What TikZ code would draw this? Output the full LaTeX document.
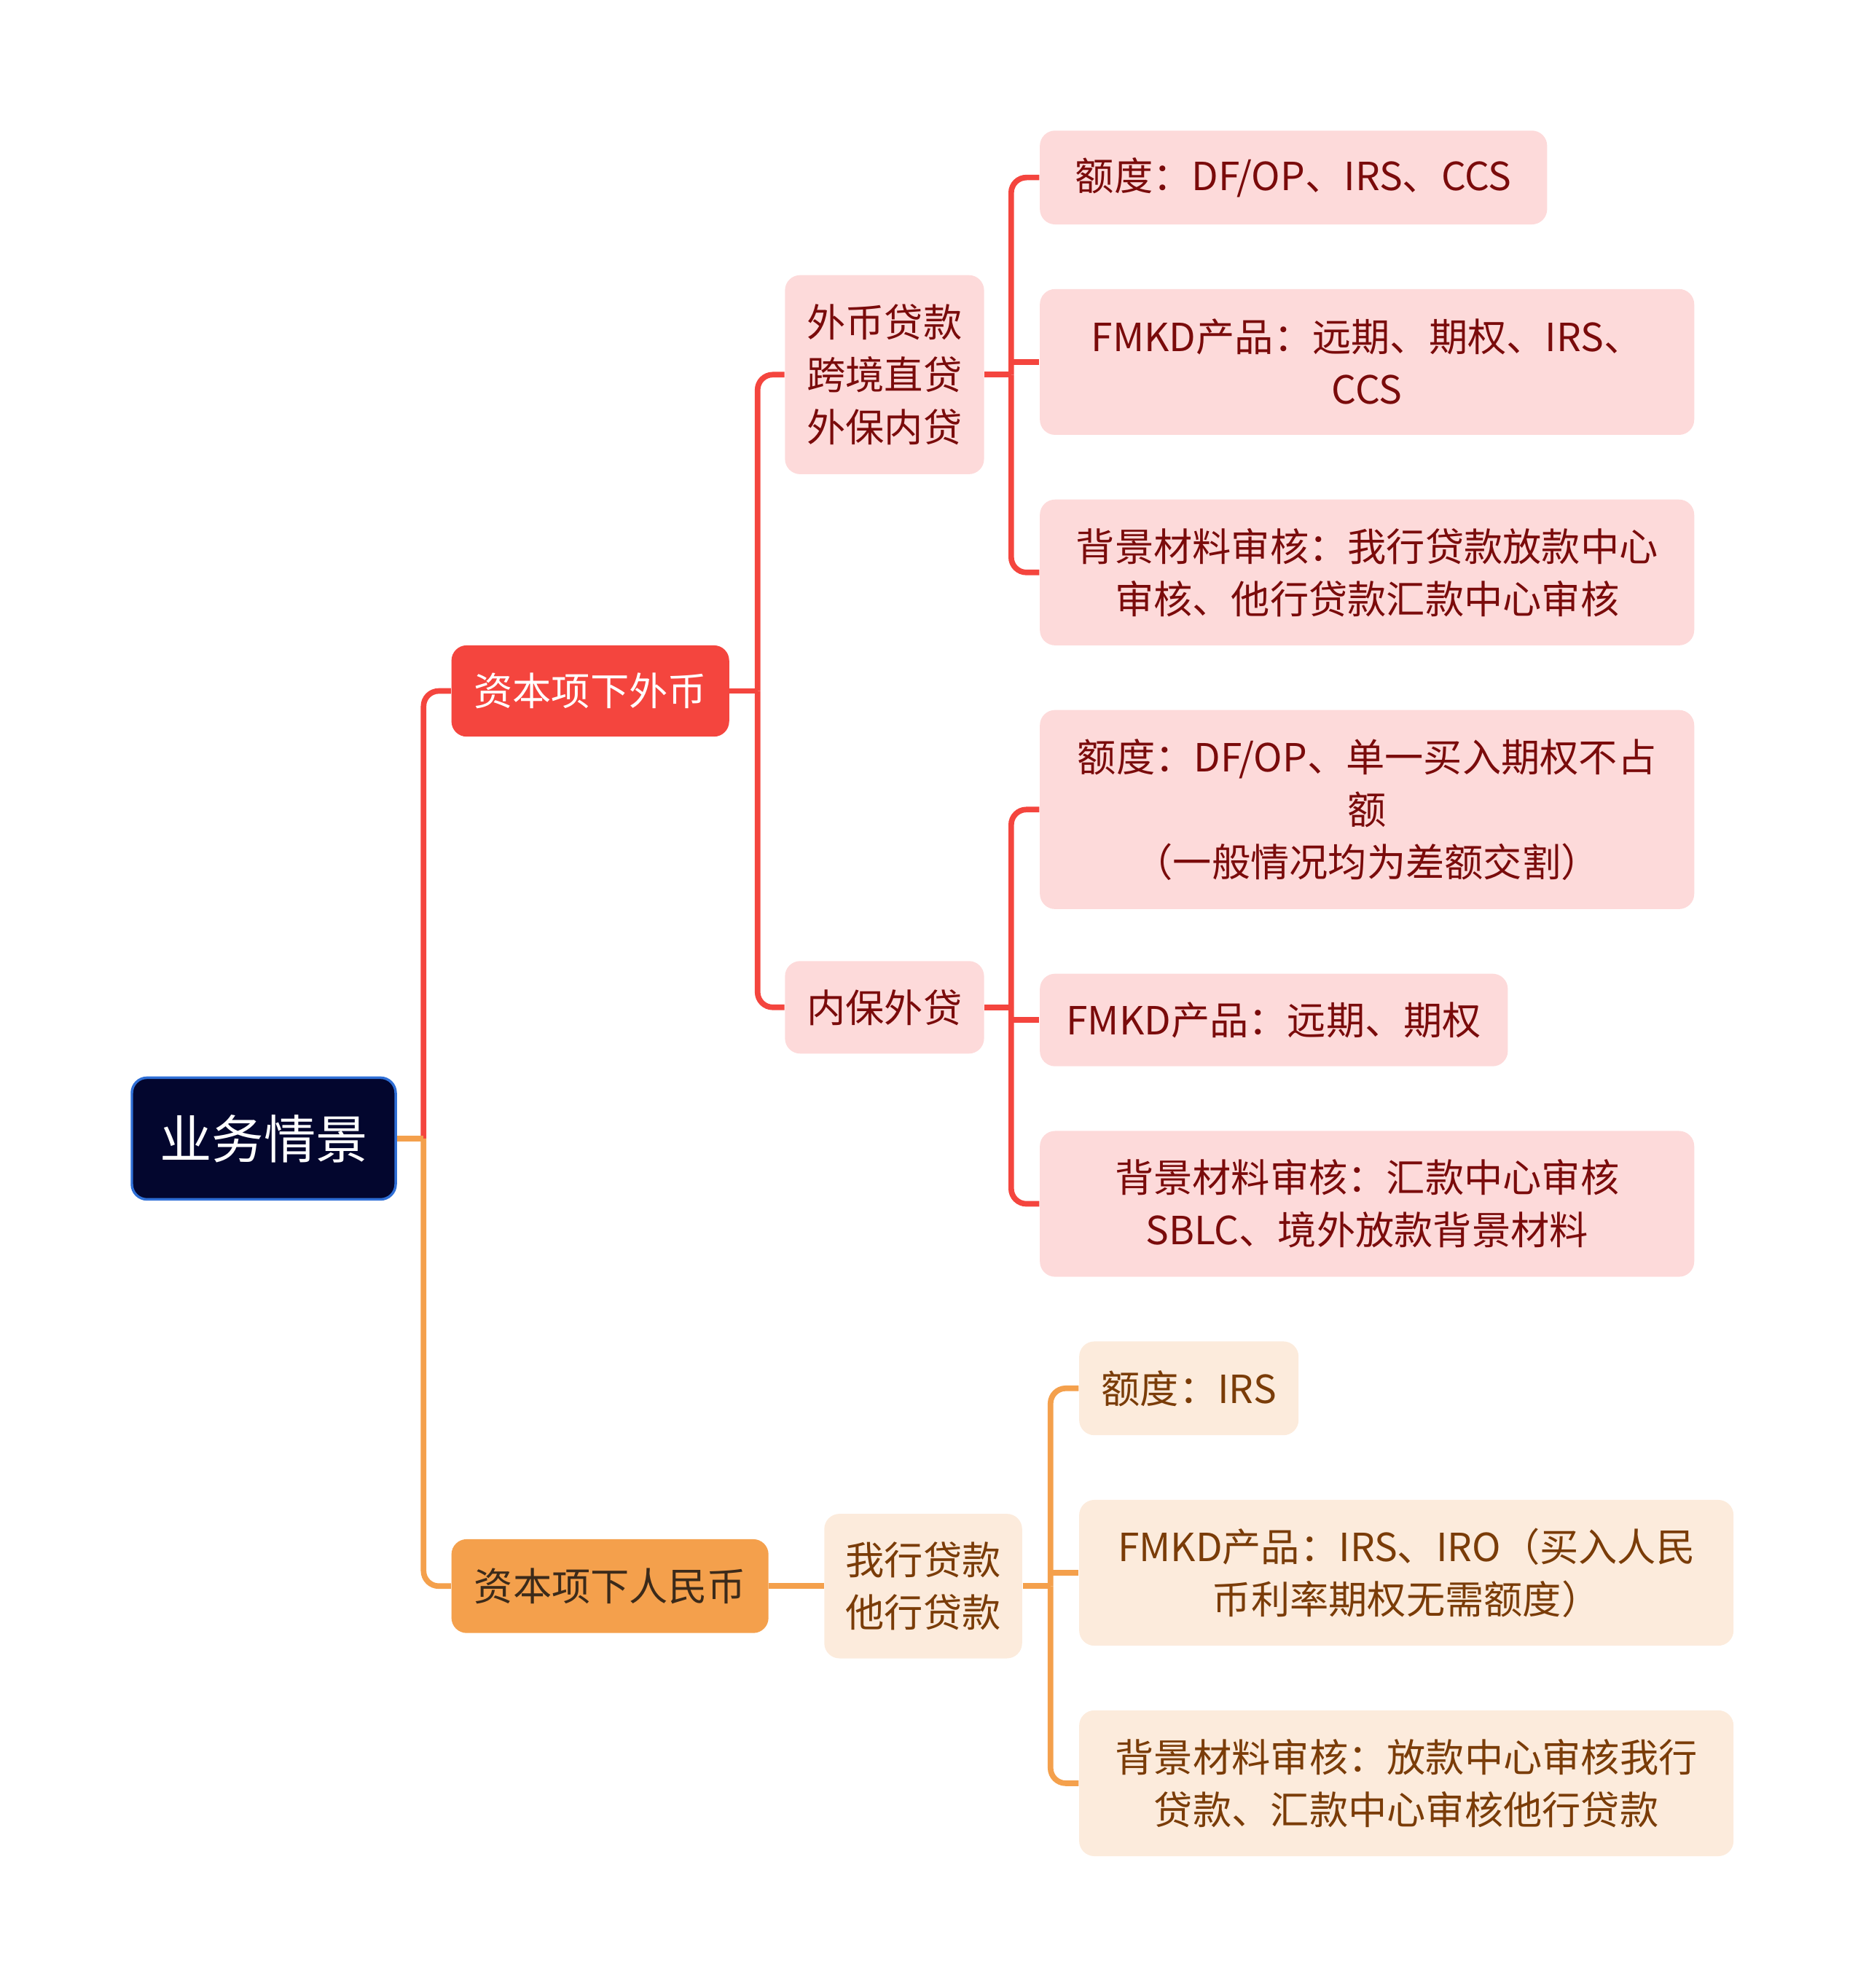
\documentclass[tikz,border=0pt]{standalone}
\usepackage{fontspec}
\setmainfont{Noto Sans CJK SC}
\usepackage{xcolor}
\usetikzlibrary{positioning,calc}

\definecolor{rootfill}{HTML}{03062E}
\definecolor{rootline}{HTML}{2F6FD6}
\definecolor{redmain}{HTML}{F4453E}
\definecolor{redlight}{HTML}{FDDADA}
\definecolor{redtext}{HTML}{7A0B0B}
\definecolor{orgmain}{HTML}{F4A04C}
\definecolor{orglight}{HTML}{FCEBDC}
\definecolor{orgtext}{HTML}{7A3C08}
\definecolor{orgdark}{HTML}{3B2A1A}

\begin{document}
\begin{tikzpicture}[x=0.5pt,y=-0.5pt,
  box/.style={rounded corners=6pt,align=center,inner sep=0pt,
              font=\fontsize{15.3}{20.7}\selectfont},
  rootbox/.style={box,draw=rootline,line width=1pt,fill=rootfill,text=white,
              font=\fontsize{20.5}{24}\selectfont},
  redtop/.style={box,fill=redmain,text=white},
  redsub/.style={box,fill=redlight,text=redtext},
  orgtop/.style={box,fill=orgmain,text=orgdark},
  orgsub/.style={box,fill=orglight,text=orgtext},
  redlink/.style={draw=redmain,line width=2.2pt,rounded corners=6pt},
  orglink/.style={draw=orgmain,line width=2.2pt,rounded corners=6pt}]
  \useasboundingbox (0,0) rectangle (1471,1568);

  % root and first level
  \node[rootbox,minimum width=104pt,minimum height=48pt] (root) at (208,898) {业务情景};
  \node[redtop,minimum width=109.5pt,minimum height=36pt] (fx) at (465.5,545) {资本项下外币};
  \node[orgtop,minimum width=125pt,minimum height=37pt] (rmb) at (481,1251) {资本项下人民币};

  % second level
  \node[redsub,minimum width=78.5pt,minimum height=78.5pt] (loan) at (697.5,295.5) {外币贷款\\跨境直贷\\外保内贷};
  \node[redsub,minimum width=78.5pt,minimum height=36.5pt] (nbwd) at (697.5,794.5) {内保外贷};
  \node[orgsub,minimum width=78pt,minimum height=57pt] (rmbloan) at (728,1251) {我行贷款\\他行贷款};

  % leaves under loan
  \node[redsub,minimum width=200pt,minimum height=37pt] (loanq) at (1020,140) {额度：DF/OP、IRS、CCS};
  \node[redsub,minimum width=258pt,minimum height=57.5pt] (loanp) at (1078,285.5) {FMKD产品：远期、期权、IRS、\\CCS};
  \node[redsub,minimum width=258pt,minimum height=57.5pt] (loanb) at (1078,451.5) {背景材料审核：我行贷款放款中心\\审核、他行贷款汇款中心审核};

  % leaves under nbwd
  \node[redsub,minimum width=258pt,minimum height=78.5pt] (nbwdq) at (1078,638.5) {额度：DF/OP、单一买入期权不占\\额\\（一般情况均为差额交割）};
  \node[redsub,minimum width=184.5pt,minimum height=36.5pt] (nbwdp) at (1004.5,804.5) {FMKD产品：远期、期权};
  \node[redsub,minimum width=258pt,minimum height=57.5pt] (nbwdb) at (1078,949.5) {背景材料审核：汇款中心审核\\SBLC、境外放款背景材料};

  % leaves under rmbloan
  \node[orgsub,minimum width=86.5pt,minimum height=37pt] (rmbq) at (937.5,1095) {额度：IRS};
  \node[orgsub,minimum width=258pt,minimum height=57.5pt] (rmbp) at (1109,1240.5) {FMKD产品：IRS、IRO（买入人民\\币利率期权无需额度）};
  \node[orgsub,minimum width=258pt,minimum height=57.5pt] (rmbb) at (1109,1406.5) {背景材料审核：放款中心审核我行\\贷款、汇款中心审核他行贷款};

  % connectors
  \draw[redlink] (root.east) ++(21,0) coordinate (jroot) |- (fx.west);
  \draw[orglink] (jroot) |- (rmb.west);
  \draw[orglink] (root.east) -- (jroot);

  \draw[redlink] (fx.east) -- ++(22,0) coordinate (jfx);
  \foreach \t in {loan,nbwd}
    \draw[redlink] (jfx) |- (\t.west);

  \draw[redlink] (loan.east) -- ++(21,0) coordinate (jloan);
  \foreach \t in {loanq,loanb}
    \draw[redlink] (jloan) |- (\t.west);
  \draw[redlink] (jloan |- loanp.west) -- (loanp.west);

  \draw[redlink] (nbwd.east) -- ++(21,0) coordinate (jnbwd);
  \foreach \t in {nbwdq,nbwdb}
    \draw[redlink] (jnbwd) |- (\t.west);
  \draw[redlink] (jnbwd |- nbwdp.west) -- (nbwdp.west);

  \draw[orglink] (rmb.east) -- (rmbloan.west);
  \draw[orglink] (rmbloan.east) -- ++(22,0) coordinate (jrmb);
  \foreach \t in {rmbq,rmbb}
    \draw[orglink] (jrmb) |- (\t.west);
  \draw[orglink] (jrmb |- rmbp.west) -- (rmbp.west);
\end{tikzpicture}
\end{document}
